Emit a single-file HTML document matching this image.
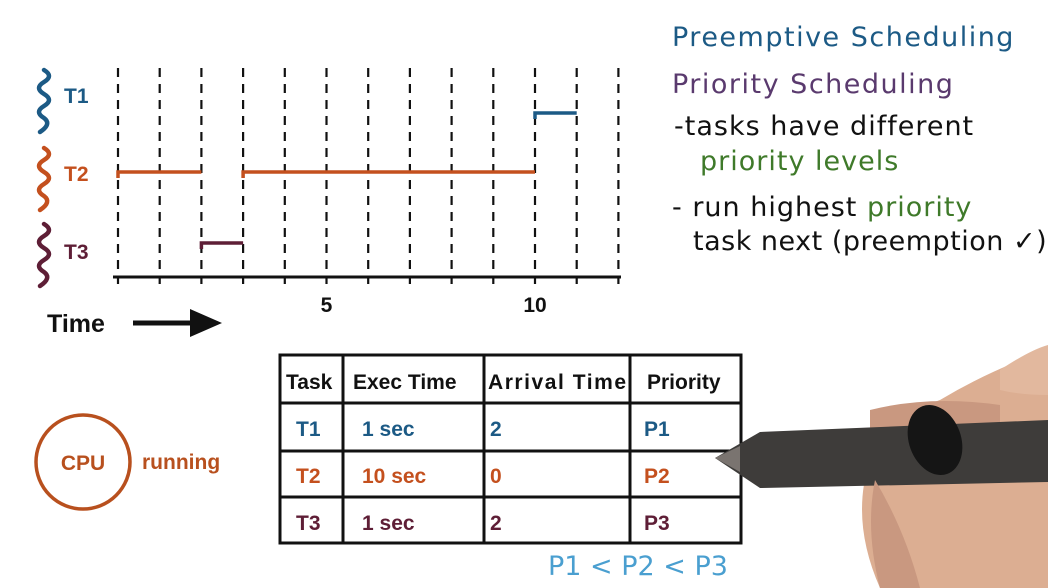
<!DOCTYPE html>
<html><head><meta charset="utf-8"><style>
html,body{margin:0;padding:0;background:#fff;width:1048px;height:588px;overflow:hidden}
svg{display:block}
.hw{font-family:"DejaVu Sans","Liberation Sans",sans-serif;font-size:27px}
.b{font-family:"Liberation Sans",sans-serif;font-weight:bold}
</style></head><body>
<svg id="chart" width="1048" height="588" viewBox="0 0 1048 588">
<g id="grid"></g>
<g id="bars"></g>
<g>
 <path d="M44 70 q10 6 0 12 q-10 6 0 12 q10 6 0 12 q-10 6 0 12 q8 6 -4 14" stroke="#1c5a85" stroke-width="4.5" fill="none" stroke-linecap="round"/>
 <text x="64" y="103" class="b" font-size="21" fill="#1c5a85">T1</text>
 <path d="M44 148 q10 6 0 12 q-10 6 0 12 q10 6 0 12 q-10 6 0 12 q8 6 -4 14" stroke="#c4501e" stroke-width="4.5" fill="none" stroke-linecap="round"/>
 <text x="64" y="181" class="b" font-size="21" fill="#c4501e">T2</text>
 <path d="M44 224 q10 6 0 12 q-10 6 0 12 q10 6 0 12 q-10 6 0 12 q8 6 -4 14" stroke="#5e1e36" stroke-width="4.5" fill="none" stroke-linecap="round"/>
 <text x="64" y="259" class="b" font-size="21" fill="#5e1e36">T3</text>
</g>
<text x="47" y="332" class="b" font-size="25" fill="#111">Time</text>
<g>
 <line x1="133" y1="323" x2="195" y2="323" stroke="#111" stroke-width="5"/>
 <polygon points="190,309 222,323 190,337" fill="#111"/>
</g>
<text class="hw" fill="#1c5a85" x="672" y="46" letter-spacing="1.5">Preemptive  Scheduling</text>
<text class="hw" fill="#5a3a6e" x="672" y="93" letter-spacing="1.5">Priority  Scheduling</text>
<text class="hw" fill="#111" x="674" y="135" letter-spacing="1">-tasks have different</text>
<text class="hw" fill="#3f7a2a" x="700" y="170" letter-spacing="1">priority levels</text>
<text class="hw" fill="#111" x="672" y="216" letter-spacing="1">- run highest <tspan fill="#3f7a2a">priority</tspan></text>
<text class="hw" fill="#111" x="693" y="250" letter-spacing="0.5">task next (preemption ✓)</text>
<g>
 <circle cx="83" cy="462" r="47" fill="none" stroke="#b8501e" stroke-width="3.5"/>
 <text x="83" y="470" text-anchor="middle" class="b" font-size="21" fill="#b8501e">CPU</text>
 <text x="142" y="469" class="b" font-size="21" fill="#b8501e">running</text>
</g>
<g stroke="#111" stroke-width="3" fill="none">
 <rect x="280" y="355" width="461" height="188"/>
 <line x1="280" y1="403" x2="741" y2="403"/><line x1="280" y1="451" x2="741" y2="451"/><line x1="280" y1="497" x2="741" y2="497"/>
 <line x1="343" y1="355" x2="343" y2="543"/><line x1="484" y1="355" x2="484" y2="543"/><line x1="630" y1="355" x2="630" y2="543"/>
</g>
<g class="b" font-size="21">
 <text x="286" y="389" fill="#111">Task</text><text x="353" y="389" fill="#111">Exec Time</text><text x="488" y="389" fill="#111" textLength="138">Arrival Time</text><text x="647" y="389" fill="#111">Priority</text>
 <text x="296" y="436" fill="#1c5a85">T1</text><text x="362" y="436" fill="#1c5a85">1 sec</text><text x="490" y="436" fill="#1c5a85">2</text><text x="644" y="436" fill="#1c5a85">P1</text>
 <text x="296" y="483" fill="#c4501e">T2</text><text x="362" y="483" fill="#c4501e">10 sec</text><text x="490" y="483" fill="#c4501e">0</text><text x="644" y="483" fill="#c4501e">P2</text>
 <text x="296" y="530" fill="#5e1e36">T3</text><text x="362" y="530" fill="#5e1e36">1 sec</text><text x="490" y="530" fill="#5e1e36">2</text><text x="644" y="530" fill="#5e1e36">P3</text>
</g>
<text x="548" y="575" class="hw" font-size="24" fill="#4a9fd0">P1 &lt; P2 &lt; P3</text>
<g>
 <path d="M1048 350 Q990 370 940 400 Q880 420 870 460 Q850 520 880 588 L1048 588 Z" fill="#dcae92"/>
 <path d="M1000 370 Q1030 350 1048 345 L1048 395 Q1020 395 1000 390 Z" fill="#e2b89e"/>
 <path d="M870 410 Q930 395 1000 405 L1000 430 Q930 425 870 430 Z" fill="#c99880"/>
 <path d="M715 458 L760 432 L1048 420 L1048 482 L760 488 Z" fill="#3e3c3a"/>
 <path d="M715 458 L740 446 L740 472 Z" fill="#7a7470"/>
 <ellipse cx="935" cy="440" rx="26" ry="36" fill="#151515" transform="rotate(-20 935 440)"/>
 <path d="M875 480 Q905 530 920 588 L880 588 Q865 530 875 480 Z" fill="#c99880"/>
</g>
<script>
const ticks=[0,1,2,3,4,5,6,7,8,9,10,11,12];
const tickLabels=[[5,"5"],[10,"10"]];
const taskRows=["T1","T2","T3"];
const segStart=[10,0,3,2];
const segEnd=[11,2,10,3];
const segTask=[0,1,1,2];
const colors=["#1c5a85","#c4501e","#c4501e","#5e1e36"];
const x=t=>118+t*41.7;
const rowY=i=>[113,172,243][i];
const NS="http://www.w3.org/2000/svg";
const g=document.getElementById('grid'),b=document.getElementById('bars');
function mk(tag,at,p){const e=document.createElementNS(NS,tag);for(const k in at)e.setAttribute(k,at[k]);p.appendChild(e);return e;}
ticks.forEach(t=>{
 const l=mk('line',{x1:x(t),x2:x(t),y1:68,y2:284,stroke:'#111','stroke-width':2.2,'stroke-dasharray':'9 7'},g);
 
 
});
const ax=mk('line',{x1:113,x2:621,y1:277,y2:277,stroke:'#111','stroke-width':3},g);


tickLabels.forEach(([t,s])=>{
 const e=mk('text',{x:x(t),y:312,'text-anchor':'middle','font-size':21,'font-weight':'bold','font-family':'Liberation Sans,sans-serif',fill:'#111'},g);
 e.textContent=s;
 
 
});
segStart.forEach((s,i)=>{
 const y=rowY(segTask[i]);
 const p=mk('path',{d:`M${x(s)} ${y+6} L${x(s)} ${y} L${x(segEnd[i])} ${y}`,stroke:colors[i],'stroke-width':3.5,fill:'none'},b);
 
 
});
</script>
</svg>
</body></html>
